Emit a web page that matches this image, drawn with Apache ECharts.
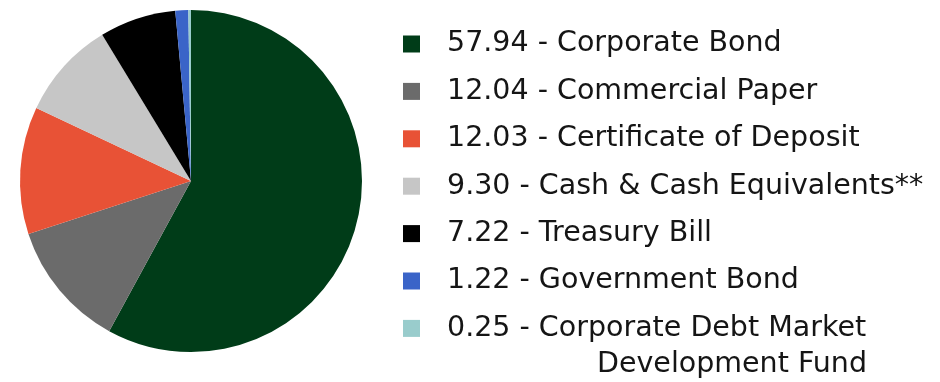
<!DOCTYPE html>
<html><head><meta charset="utf-8">
<script src="https://cdn.jsdelivr.net/npm/echarts@6/dist/echarts.min.js"></script>
<style>html,body{margin:0;padding:0;background:#fff}#c{width:940px;height:382px}</style>
</head><body><div id="c"></div>
<script>
const categories = ["Corporate Bond","Commercial Paper","Certificate of Deposit","Cash & Cash Equivalents**","Treasury Bill","Government Bond","Corporate Debt Market"];
const wrapTail = ["","","","","","","Development Fund"];
const values = [57.94,12.04,12.03,9.30,7.22,1.22,0.25];
const colors = ["#003c18","#6b6b6b","#e85236","#c6c6c6","#000000","#3a64c8","#99cccc"];

const chart = echarts.init(document.getElementById('c'), null, {renderer:'canvas'});
const fontFamily = "'DejaVu Sans', sans-serif";
const data = categories.map((c,i)=>({name:c, value:values[i], itemStyle:{color:colors[i]}}));
const lastIdx = categories.length-1;
chart.setOption({
  animation:false,
  legend:{
    orient:'vertical', left:403, top:26, padding:0,
    itemWidth:17, itemHeight:17, itemGap:11.4,
    icon:'rect',
    textStyle:{fontFamily, fontSize:28.5, color:'#151515', lineHeight:36, padding:[0,0,0,22]},
    formatter:(name)=>{const i=categories.indexOf(name);return values[i].toFixed(2)+' - '+name;},
    data: categories
  },
  graphic:[{
    type:'text', left:597, top:350,
    style:{text:wrapTail[lastIdx], font:"28.5px 'DejaVu Sans', sans-serif", fill:'#151515'}
  }],
  series:[{
    type:'pie', center:[191,181], radius:171, startAngle:90, clockwise:true,
    label:{show:false}, labelLine:{show:false}, emphasis:{disabled:true},
    itemStyle:{borderWidth:0},
    data
  }]
});
</script></body></html>
